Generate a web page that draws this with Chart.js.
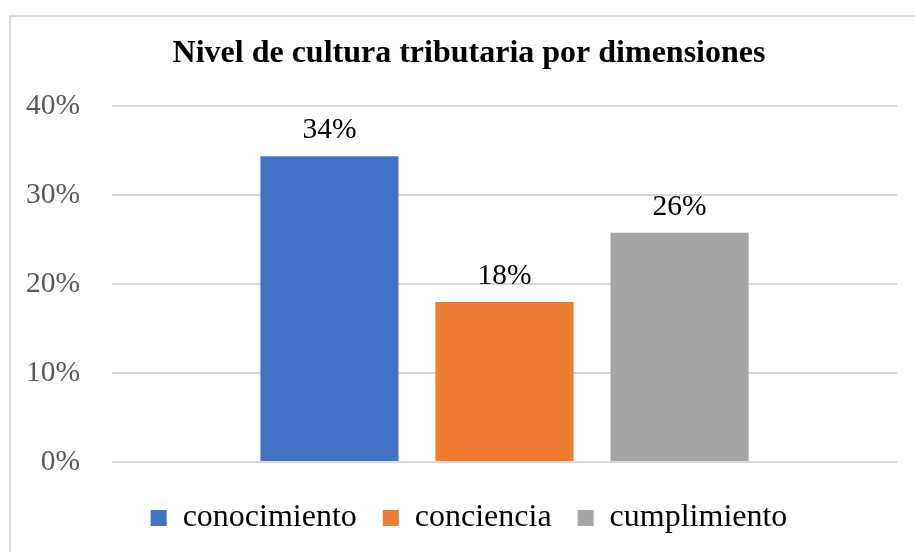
<!DOCTYPE html>
<html>
<head>
<meta charset="utf-8">
<script src="https://cdn.jsdelivr.net/npm/chart.js@4"></script>
<style>
    html, body { margin: 0; padding: 0; background: #fff; overflow: hidden; }
    .frame {
        position: absolute; left: 9px; top: 15px;
        width: 940px; height: 580px;
        border: 2px solid #d9d9d9; box-sizing: border-box;
    }
    .box {
        position: absolute; left: 9px; top: 15px;
        width: 920px; height: 529px;
    }
</style>
</head>
<body>
<div class="frame"></div>
<div class="box"><canvas id="cultureChart"></canvas></div>
<script>
var categories = ["Nivel"];
var seriesNames = ["conocimiento", "conciencia", "cumplimiento"];
var seriesValues = [34.4, 18.0, 25.8];
var seriesColors = ["#4472C4", "#ED7D31", "#A5A5A5"];
var yTicks = [0, 10, 20, 30, 40];

var serif = "'Liberation Serif', 'Times New Roman', serif";

// etiquetas de valor encima de cada barra
var valueLabels = {
    id: "valueLabels",
    afterDatasetsDraw: function (chart) {
        var ctx = chart.ctx;
        ctx.save();
        ctx.font = "29.5px " + serif;
        ctx.fillStyle = "#000";
        ctx.textAlign = "center";
        ctx.textBaseline = "alphabetic";
        chart.data.datasets.forEach(function (ds, i) {
            var bar = chart.getDatasetMeta(i).data[0];
            ctx.fillText(Math.round(ds.data[0]) + "%", bar.x, bar.y - 18);
        });
        ctx.restore();
    }
};

var ctx = document.getElementById("cultureChart").getContext("2d");
var chart = new Chart(ctx, {
    type: "bar",
    data: {
        labels: categories,
        datasets: seriesNames.map(function (name, i) {
            return {
                label: name,
                data: [seriesValues[i]],
                backgroundColor: seriesColors[i],
                borderWidth: 0,
                categoryPercentage: 0.669,
                barPercentage: 0.789
            };
        })
    },
    options: {
        responsive: true,
        maintainAspectRatio: false,
        animation: false,
        layout: { padding: 0 },
        plugins: {
            tooltip: { enabled: false },
            title: {
                display: true,
                text: "Nivel de cultura tributaria por dimensiones",
                color: "#000",
                font: { family: serif, size: 32, weight: "bold", lineHeight: 1.2 },
                padding: { top: 20, bottom: 33 }
            },
            legend: {
                position: "bottom",
                labels: {
                    color: "#000",
                    font: { family: serif, size: 32 },
                    boxWidth: 16,
                    boxHeight: 16,
                    padding: 26
                }
            }
        },
        scales: {
            x: {
                display: true,
                grid: { display: false },
                border: { display: false },
                ticks: { display: false },
                afterFit: function (s) { s.height = 14; }
            },
            y: {
                min: 0,
                max: 40,
                afterBuildTicks: function (s) {
                    s.ticks = yTicks.map(function (v) { return { value: v }; });
                },
                afterFit: function (s) { s.width = 103; },
                grid: { color: "#d9d9d9", lineWidth: 2, drawTicks: false },
                border: { display: false },
                ticks: {
                    padding: 32,
                    color: "#595959",
                    font: { family: serif, size: 29.5 },
                    callback: function (v) { return v + "%"; }
                }
            },
            yR: {
                type: "linear",
                position: "right",
                display: true,
                grid: { display: false },
                border: { display: false },
                ticks: { display: false },
                afterFit: function (s) { s.width = 32; }
            }
        }
    },
    plugins: [valueLabels]
});
</script>
</body>
</html>
